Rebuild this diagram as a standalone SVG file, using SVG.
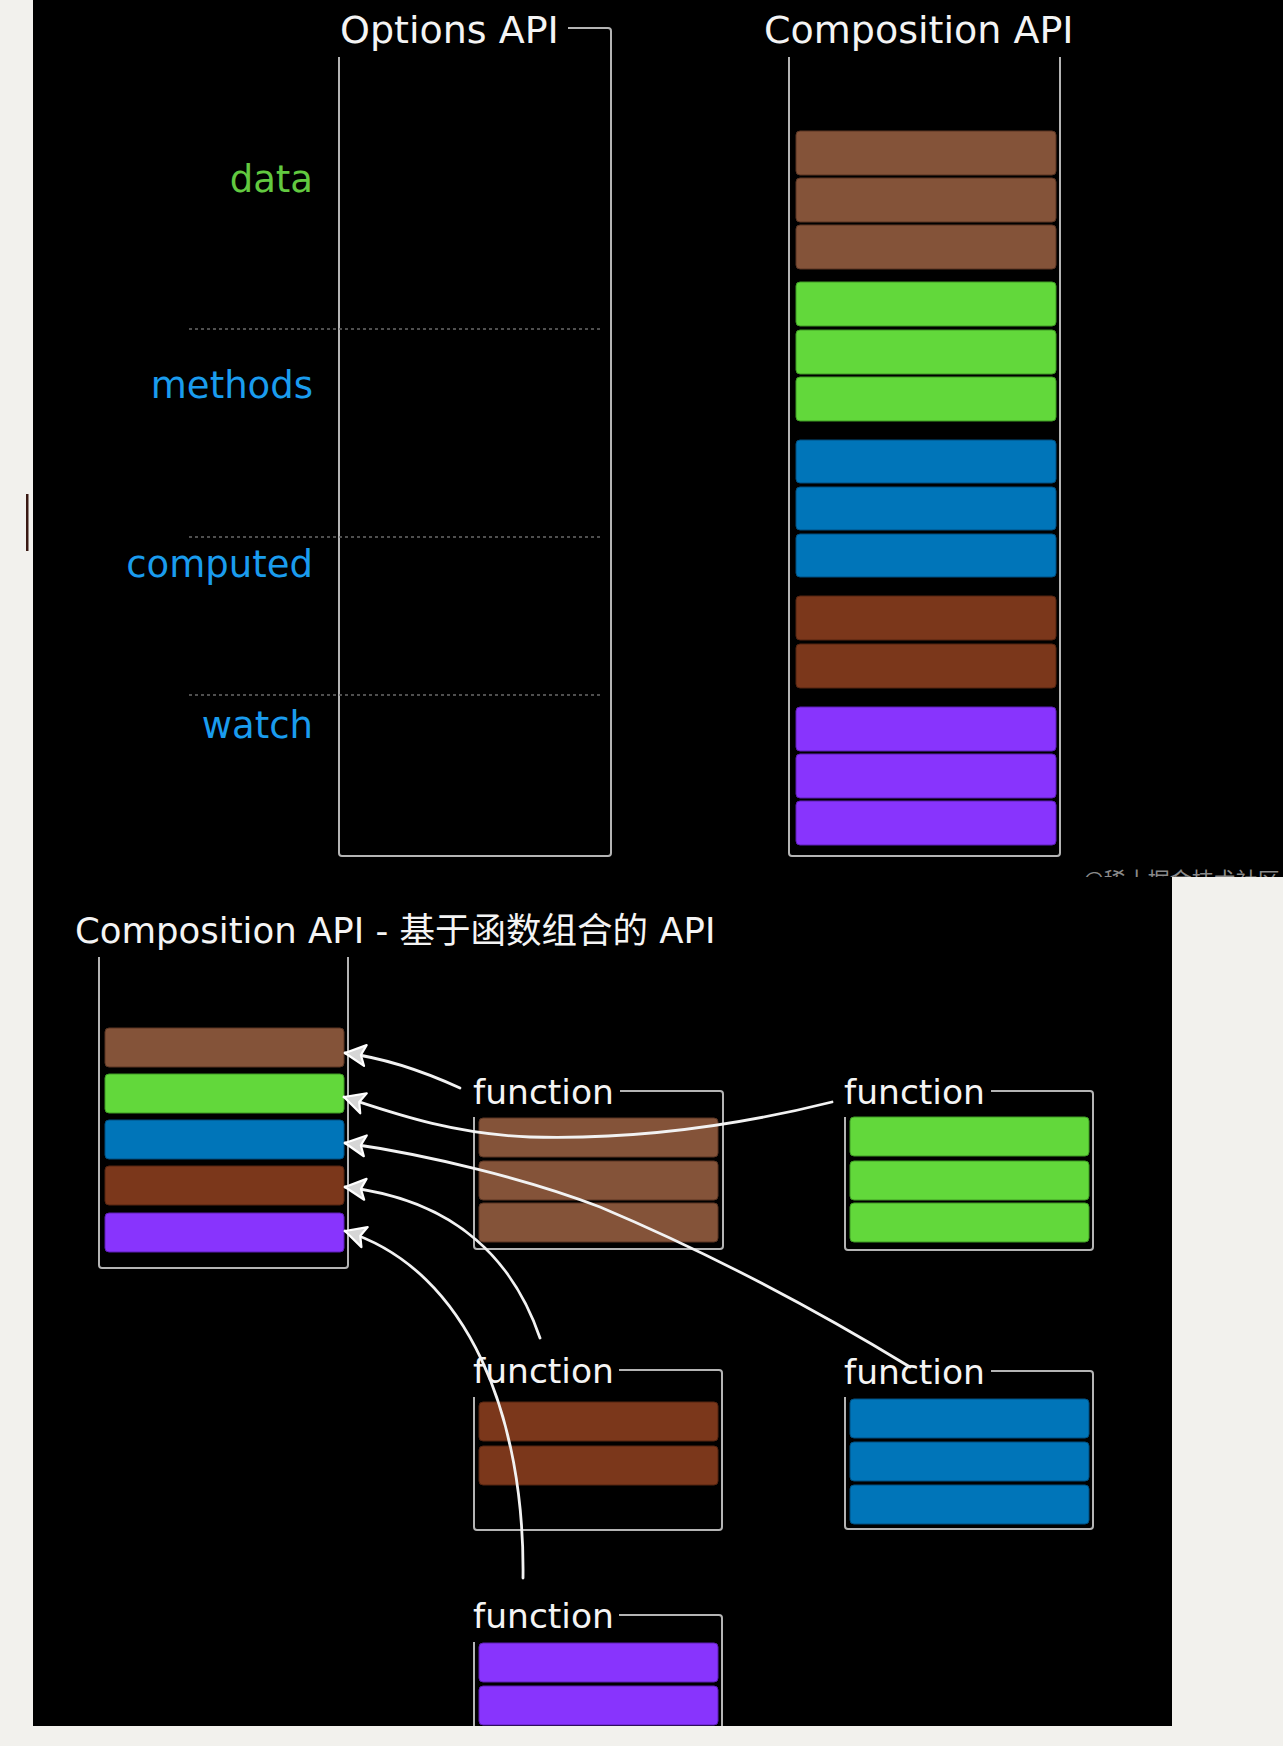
<svg xmlns="http://www.w3.org/2000/svg" width="1283" height="1746" viewBox="0 0 1283 1746">
<style>
.t{font-family:"DejaVu Sans","Noto Sans CJK SC",sans-serif;fill:#f4f4f4}
.lbl{font-family:"DejaVu Sans",sans-serif;font-size:37px;text-anchor:end}
.fn{font-family:"DejaVu Sans",sans-serif;font-size:34.5px;fill:#f4f4f4}
.frame{fill:none;stroke:#b4b4b4;stroke-width:2}
.dash{stroke:#6a6a6a;stroke-width:1.5;stroke-dasharray:3 3}
.br{fill:#845339;stroke:#5a3523;stroke-width:1}
.gr{fill:#62d83b;stroke:#3f9a24;stroke-width:1}
.bl{fill:#0075b9;stroke:#004f80;stroke-width:1}
.db{fill:#7b371b;stroke:#552410;stroke-width:1}
.pu{fill:#8834fd;stroke:#5d1fb5;stroke-width:1}
.con{fill:none;stroke:#f2f2f2;stroke-width:2.8;stroke-linecap:round}
</style>
<defs>
<marker id="ah" viewBox="0 0 24 24" refX="22" refY="12" markerWidth="24" markerHeight="24" markerUnits="userSpaceOnUse" orient="auto">
<path d="M1.5,1.5 L22,12 L1.5,22.5 L6,12 z" fill="#d6d6d6" stroke="#ffffff" stroke-width="2.2" stroke-linejoin="round"/>
</marker>
</defs>
<rect x="0" y="0" width="1283" height="1746" fill="#f2f1ed"/>
<rect x="26" y="494" width="2.5" height="57" fill="#3a1a14"/>
<!-- top panel -->
<rect x="33" y="0" width="1250" height="877" fill="#000"/>
<g id="options-api">
<text class="t" x="340" y="43" font-size="38">Options API</text>
<path class="frame" d="M568,28 H608 Q611,28 611,31 V853 Q611,856 608,856 H342 Q339,856 339,853 V57"/>
<line class="dash" x1="189" y1="329" x2="600" y2="329"/>
<line class="dash" x1="189" y1="537" x2="600" y2="537"/>
<line class="dash" x1="189" y1="695" x2="600" y2="695"/>
<text class="lbl" x="313" y="192" fill="#62c940">data</text>
<text class="lbl" x="313" y="398" fill="#1a9cee">methods</text>
<text class="lbl" x="313" y="577" fill="#1a9cee">computed</text>
<text class="lbl" x="313" y="738" fill="#1a9cee">watch</text>
</g>
<g id="composition-api">
<text class="t" x="764" y="43" font-size="38">Composition API</text>
<path class="frame" d="M789,57 V853 Q789,856 792,856 H1057 Q1060,856 1060,853 V57"/>
<rect class="br" x="796" y="131" width="260" height="44" rx="4"/>
<rect class="br" x="796" y="178" width="260" height="44" rx="4"/>
<rect class="br" x="796" y="225" width="260" height="44" rx="4"/>
<rect class="gr" x="796" y="282" width="260" height="44" rx="4"/>
<rect class="gr" x="796" y="330" width="260" height="44" rx="4"/>
<rect class="gr" x="796" y="377" width="260" height="44" rx="4"/>
<rect class="bl" x="796" y="440" width="260" height="43" rx="4"/>
<rect class="bl" x="796" y="487" width="260" height="43" rx="4"/>
<rect class="bl" x="796" y="534" width="260" height="43" rx="4"/>
<rect class="db" x="796" y="596" width="260" height="44" rx="4"/>
<rect class="db" x="796" y="644" width="260" height="44" rx="4"/>
<rect class="pu" x="796" y="707" width="260" height="44" rx="4"/>
<rect class="pu" x="796" y="754" width="260" height="44" rx="4"/>
<rect class="pu" x="796" y="801" width="260" height="44" rx="4"/>
</g>
<text x="1083" y="888" font-family="'Noto Sans CJK SC',sans-serif" font-size="22" fill="#8a8a8a">@稀土掘金技术社区</text>
<!-- bottom panel -->
<rect x="33" y="877" width="1139" height="849" fill="#000"/>
<rect x="1172" y="877" width="111" height="869" fill="#f2f1ed"/>
<text class="t" x="75" y="943" font-size="35.5">Composition API - 基于函数组合的 API</text>
<g id="combined">
<path class="frame" d="M99,957 V1265 Q99,1268 102,1268 H345 Q348,1268 348,1265 V957"/>
<rect class="br" x="105" y="1028" width="239" height="39" rx="4"/>
<rect class="gr" x="105" y="1074" width="239" height="39" rx="4"/>
<rect class="bl" x="105" y="1120" width="239" height="39" rx="4"/>
<rect class="db" x="105" y="1166" width="239" height="39" rx="4"/>
<rect class="pu" x="105" y="1213" width="239" height="39" rx="4"/>
</g>
<g id="fn-brown">
<text class="fn" x="473" y="1104">function</text>
<path class="frame" d="M620,1091 H720 Q723,1091 723,1094 V1246 Q723,1249 720,1249 H477 Q474,1249 474,1246 V1117"/>
<rect class="br" x="479" y="1118" width="239" height="39" rx="4"/>
<rect class="br" x="479" y="1161" width="239" height="39" rx="4"/>
<rect class="br" x="479" y="1203" width="239" height="39" rx="4"/>
</g>
<g id="fn-green">
<text class="fn" x="844" y="1104">function</text>
<path class="frame" d="M991,1091 H1090 Q1093,1091 1093,1094 V1247 Q1093,1250 1090,1250 H848 Q845,1250 845,1247 V1117"/>
<rect class="gr" x="850" y="1117" width="239" height="39" rx="4"/>
<rect class="gr" x="850" y="1161" width="239" height="39" rx="4"/>
<rect class="gr" x="850" y="1203" width="239" height="39" rx="4"/>
</g>
<g id="fn-darkbrown">
<text class="fn" x="473" y="1383">function</text>
<path class="frame" d="M619,1370 H719 Q722,1370 722,1373 V1527 Q722,1530 719,1530 H477 Q474,1530 474,1527 V1397"/>
<rect class="db" x="479" y="1402" width="239" height="39" rx="4"/>
<rect class="db" x="479" y="1446" width="239" height="39" rx="4"/>
</g>
<g id="fn-blue">
<text class="fn" x="844" y="1384">function</text>
<path class="frame" d="M991,1371 H1090 Q1093,1371 1093,1374 V1526 Q1093,1529 1090,1529 H848 Q845,1529 845,1526 V1397"/>
<rect class="bl" x="850" y="1399" width="239" height="39" rx="4"/>
<rect class="bl" x="850" y="1442" width="239" height="39" rx="4"/>
<rect class="bl" x="850" y="1485" width="239" height="39" rx="4"/>
</g>
<g id="fn-purple">
<text class="fn" x="473" y="1628">function</text>
<path class="frame" d="M619,1615 H719 Q722,1615 722,1618 V1746 M474,1746 V1642"/>
<rect class="pu" x="479" y="1643" width="239" height="39" rx="4"/>
<rect class="pu" x="479" y="1686" width="239" height="39" rx="4"/>
<rect class="pu" x="479" y="1729" width="239" height="39" rx="4"/>
</g>
<g id="connectors">
<path class="con" marker-end="url(#ah)" d="M460,1088 C425,1072 385,1058 345,1053"/>
<path class="con" marker-end="url(#ah)" d="M832,1102 C740,1125 640,1140 530,1137 C450,1134 390,1112 344,1097"/>
<path class="con" marker-end="url(#ah)" d="M910,1367 C800,1300 690,1245 600,1207 C530,1180 430,1155 345,1143"/>
<path class="con" marker-end="url(#ah)" d="M540,1338 C515,1265 460,1200 345,1187"/>
<path class="con" marker-end="url(#ah)" d="M523,1578 C525,1420 470,1270 345,1231"/>
</g>
<rect x="0" y="1726" width="1283" height="20" fill="#f2f1ed"/>
</svg>
